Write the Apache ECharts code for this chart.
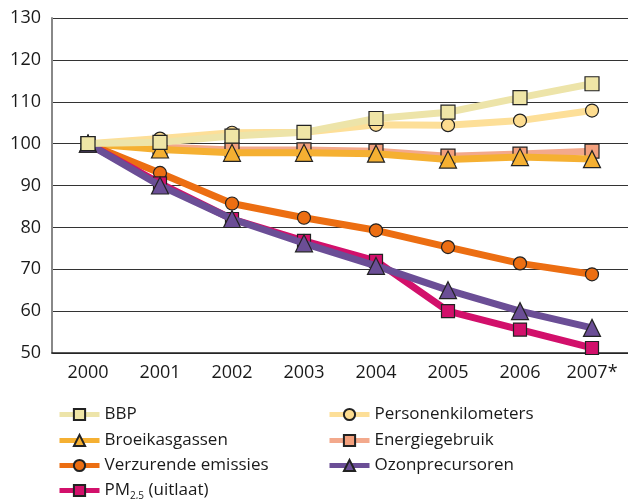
<!DOCTYPE html>
<html><head><meta charset="utf-8">
<script src="https://cdn.jsdelivr.net/npm/echarts@6/dist/echarts.min.js"></script>
<style>html,body{margin:0;padding:0;background:#fff}#c{width:628px;height:499px}</style>
</head><body><div id="c"></div>
<script>
const years = ['2000','2001','2002','2003','2004','2005','2006','2007*'];
const yTicks = [50,60,70,80,90,100,110,120,130];
const bbp = [100,100.3,101.8,102.7,106.0,107.5,111.0,114.3];
const personen = [100,101.2,102.6,102.7,104.5,104.4,105.5,107.9];
const broeikas = [100,98.6,97.8,97.8,97.6,96.2,96.8,96.3];
const energie = [100,99.2,98.5,98.5,98.2,97.0,97.5,98.2];
const verzurend = [100,93.0,85.7,82.3,79.3,75.3,71.4,68.8];
const ozon = [100,90.0,82.0,76.2,70.8,65.0,60.0,56.0];
const pm = [100,90.5,82.0,76.8,72.0,60.0,55.6,51.2];

const FONT = '"Open Sans", "Noto Sans", sans-serif';
function mk(name, data, color, fill, symbol, size, z){
  return {name, type:'line', data, z, symbol, symbolSize:size,
    lineStyle:{color, width:7}, itemStyle:{color:fill, borderColor:'#222', borderWidth:1.2},
    emphasis:{disabled:true}, animation:false};
}
const series = [
  mk('Personenkilometers', personen, '#fddf98', '#fddc8f', 'circle', 13, 2),
  mk('Energiegebruik', energie, '#f3a98c', '#f3a07d', 'rect', 14, 3),
  mk('Broeikasgassen', broeikas, '#f5b032', '#f5b032', 'triangle', 17, 4),
  mk('Verzurende emissies', verzurend, '#ec6e12', '#ec6e12', 'circle', 13, 5),
  mk('PM2,5 (uitlaat)', pm, '#d2106b', '#d2106b', 'rect', 13, 6),
  mk('Ozonprecursoren', ozon, '#6b4e96', '#6b4e96', 'triangle', 17, 7),
  mk('BBP', bbp, '#ede4a9', '#efe5a6', 'rect', 14, 8)
];
const legPos = [
  ['BBP',52,401],['Personenkilometers',322,401],
  ['Broeikasgassen',52,427],['Energiegebruik',322,427],
  ['Verzurende emissies',52,452],['Ozonprecursoren',322,452],
  ['PM2,5 (uitlaat)',52,477]
];
const legends = legPos.map(([n,l,t])=>({
  data:[n], left:l, top:t, itemWidth:40, itemHeight:14, itemGap:10,
  selectedMode:false,
  lineStyle:{width:5},
  textStyle:{fontFamily:FONT, fontSize:17, color:'#1a1a1a',
    rich:{s:{fontSize:10, verticalAlign:'bottom', padding:[12,0,0,0], fontFamily:FONT, color:'#1a1a1a'}}},
  formatter: n==='PM2,5 (uitlaat)' ? ()=>'PM{s|2,5} (uitlaat)' : undefined
}));
const chart = echarts.init(document.getElementById('c'), null, {renderer:'canvas'});
chart.setOption({
  animation:false,
  grid:{left:52, right:-2, top:18, bottom:146},
  legend: legends,
  xAxis:{type:'category', data:years, boundaryGap:true,
    axisLine:{lineStyle:{color:'#222', width:1.5}},
    axisTick:{inside:true, length:8, lineStyle:{color:'#222', width:1}},
    axisLabel:{fontFamily:FONT, fontSize:18, color:'#1a1a1a', margin:11}},
  yAxis:{type:'value', min:50, max:130, interval:10,
    axisLine:{show:true, lineStyle:{color:'#888', width:2}},
    axisTick:{show:false},
    splitLine:{lineStyle:{color:'#333', width:1}},
    axisLabel:{fontFamily:FONT, fontSize:18, color:'#1a1a1a', margin:11,
      formatter:v=>yTicks.includes(v)?String(v):''}},
  series
});
</script></body></html>
